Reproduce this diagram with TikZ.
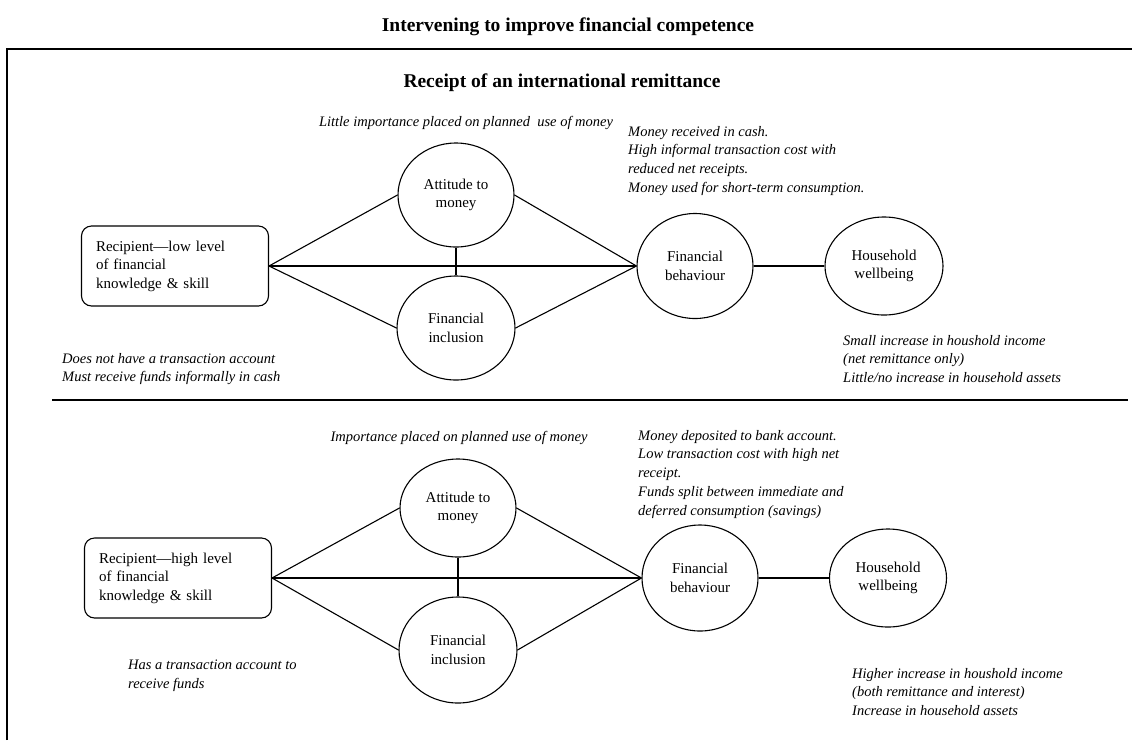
\documentclass[tikz,border=0pt]{standalone}
\usepackage{fontspec}
\setmainfont{Liberation Serif}
\usetikzlibrary{shapes.geometric}
\begin{document}
\begin{tikzpicture}[x=1pt,y=-1pt,
  circ/.style={ellipse, draw, line width=1.1pt, inner sep=0pt, align=center,
    font=\fontsize{15}{18.5}\selectfont},
  recbox/.style={draw, rounded corners=10pt, line width=1.1pt, minimum width=187pt,
    minimum height=80pt, text width=158pt, align=left, inner xsep=14pt,
    font=\fontsize{15}{18.5}\selectfont},
  note/.style={font=\fontsize{14.5}{18.7}\selectfont\itshape, align=left, inner sep=0pt},
  link/.style={line width=1.1pt},
  heading/.style={font=\fontsize{19.5}{23}\selectfont\bfseries, inner sep=0pt},
  frame/.style={line width=1.8pt}]
\useasboundingbox (0,0) rectangle (1138,740);

% frame and divider
\draw[frame] (7,740) -- (7,49) -- (1132,49);
\draw[frame] (52,400) -- (1128,400);

% headings
\node[heading] (title) at (568,27) {Intervening to improve financial competence};
\node[heading] (head) at (562,83) {Receipt of an international remittance};

% ---------- top panel ----------
\node[recbox] (box1) at (175,266) {Recipient---low level\\of financial\\knowledge \& skill};
\node[circ, minimum width=116pt, minimum height=104pt] (att1) at (456,195) {Attitude to\\money};
\node[circ, minimum width=118pt, minimum height=104pt] (inc1) at (456,328) {Financial\\inclusion};
\node[circ, minimum width=116pt, minimum height=105pt] (beh1) at (695,266) {Financial\\behaviour};
\node[circ, minimum width=118pt, minimum height=98pt] (hh1) at (884,266) {Household\\wellbeing};

\draw[link] (box1.east) -- (att1.west);
\draw[link] (box1.east) -- (inc1.west);
\draw[link] (box1.east) -- (beh1.west);
\draw[link] (att1.east) -- (beh1.west);
\draw[link] (inc1.east) -- (beh1.west);
\draw[link] (att1.south) -- (inc1.north);
\draw[link] (beh1.east) -- (hh1.west);

\node[note, anchor=base] (n1) at (466,126) {Little importance placed on planned\ \ use of money};
\node[note, anchor=north west] (n2) at (628,126) {Money received in cash.\\High informal transaction cost with\\reduced net receipts.\\Money used for short-term consumption.};
\node[note, anchor=north west] (n3) at (62,353) {Does not have a transaction account\\Must receive funds informally in cash};
\node[note, anchor=north west] (n4) at (843,335) {Small increase in houshold income\\(net remittance only)\\Little/no increase in household assets};

% ---------- bottom panel ----------
\node[recbox] (box2) at (178,578) {Recipient---high level\\of financial\\knowledge \& skill};
\node[circ, minimum width=116pt, minimum height=98pt] (att2) at (458,508) {Attitude to\\money};
\node[circ, minimum width=118pt, minimum height=106pt] (inc2) at (458,650) {Financial\\inclusion};
\node[circ, minimum width=116pt, minimum height=106pt] (beh2) at (700,578) {Financial\\behaviour};
\node[circ, minimum width=117pt, minimum height=98pt] (hh2) at (888,578) {Household\\wellbeing};

\draw[link] (box2.east) -- (att2.west);
\draw[link] (box2.east) -- (inc2.west);
\draw[link] (box2.east) -- (beh2.west);
\draw[link] (att2.east) -- (beh2.west);
\draw[link] (inc2.east) -- (beh2.west);
\draw[link] (att2.south) -- (inc2.north);
\draw[link] (beh2.east) -- (hh2.west);

\node[note, anchor=base] (n5) at (459,441) {Importance placed on planned use of money};
\node[note, anchor=north west] (n6) at (638,430) {Money deposited to bank account.\\Low transaction cost with high net\\receipt.\\Funds split between immediate and\\deferred consumption (savings)};
\node[note, anchor=north west] (n7) at (128,660) {Has a transaction account to\\receive funds};
\node[note, anchor=north west] (n8) at (852,668) {Higher increase in houshold income\\(both remittance and interest)\\Increase in household assets};
\end{tikzpicture}
\end{document}
